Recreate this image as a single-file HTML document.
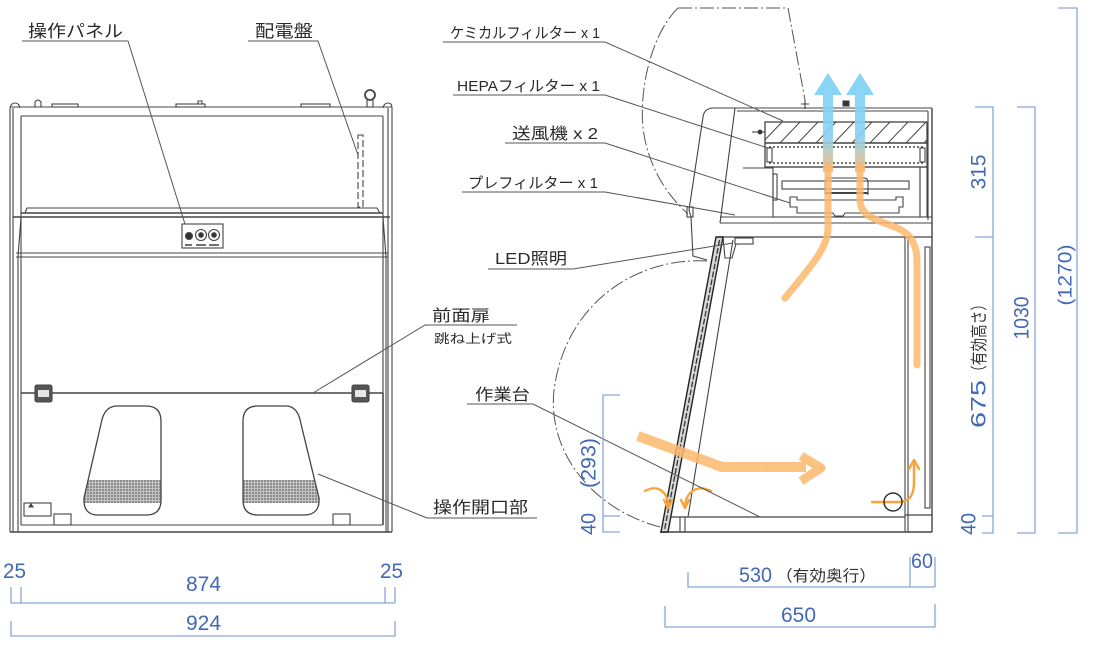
<!DOCTYPE html>
<html><head><meta charset="utf-8">
<style>
html,body{margin:0;padding:0;background:#fff;}
svg{display:block;}
text{font-family:"Liberation Sans","Noto Sans CJK JP",sans-serif;}
</style></head><body>
<svg width="1093" height="650" viewBox="0 0 1093 650" xmlns="http://www.w3.org/2000/svg">
<defs>
  <linearGradient id="ba" x1="0" y1="72" x2="0" y2="172" gradientUnits="userSpaceOnUse">
    <stop offset="0" stop-color="#79d0f6"/>
    <stop offset="0.65" stop-color="#86d2f3"/>
    <stop offset="1" stop-color="#fbb86c"/>
  </linearGradient>
  <pattern id="mesh" width="3" height="3" patternUnits="userSpaceOnUse">
    <rect width="3" height="3" fill="#c4c4c4"/>
    <rect width="2" height="2" fill="#8a8a8a"/>
  </pattern>
  <clipPath id="op1"><path d="M117 406 L146 406 Q161 406 161 421 L161 500 Q161 515 146 515 L98 515 Q83 515 84 498 L101 424 Q104 406 117 406 Z"/></clipPath>
  <clipPath id="op2"><path d="M258 406 L286 406 Q298 406 301 424 L319 498 Q320 515 304 515 L258 515 Q243 515 243 500 L243 421 Q243 406 258 406 Z"/></clipPath>
  <clipPath id="chem"><rect x="765" y="122" width="162" height="21"/></clipPath>
</defs>

<!-- ================= FRONT VIEW ================= -->
<g stroke="#444" fill="none" stroke-width="1.1">
  <path d="M10 108 V532 M13 108 V532 M18 257 V532 M21 116 V525"/>
  <path d="M10 108 Q11 103 15 103 Q19 103 20 108"/>
  <path d="M392 108 V532 M388 108 V532 M386 257 V532 M383 116 V525"/>
  <path d="M383 108 Q384 103 388 103 Q392 103 392 108"/>
  <path d="M10 107 H392 M21 116 H383"/>
  <path d="M25 213 L27 208 H377 L380 213"/>
  <path d="M21 213 H383" stroke-width="1.6"/>
  <path d="M13 217 H390" stroke-width="1.4"/>
  <path d="M21 217 L18 257 M383 217 L386 257"/>
  <path d="M16 253 H388 M16 257 H388"/>
  <path d="M21 393 H383 M383 393 V525" stroke-width="1.5"/>
  <path d="M21 525 H383"/>
  <path d="M10 532 H392" stroke-width="1.5"/>
  <path d="M35 107 V102 Q38 98 41 102 V107"/>
  <rect x="52" y="104" width="26" height="3"/>
  <rect x="176" y="104" width="29" height="3"/>
  <path d="M198 104 V101 H202 V104"/>
  <rect x="301" y="104" width="29" height="3"/>
  <circle cx="370" cy="95" r="5" stroke-width="1.8"/>
  <rect x="367" y="100" width="6" height="7"/>
  <rect x="358" y="135" width="5" height="72" stroke-dasharray="7 3"/>
  <rect x="182" y="224" width="41" height="24"/>
  <circle cx="189" cy="236" r="3.5" fill="#333"/>
  <circle cx="201" cy="235" r="5.5"/>
  <circle cx="201" cy="235" r="2.3" fill="#333"/>
  <circle cx="214" cy="235" r="5.5"/>
  <circle cx="214" cy="235" r="2.3" fill="#333"/>
  <path d="M185 245 H192 M196 245 H206 M209 245 H219" stroke-width="1.6"/>
  <rect x="35" y="385" width="17" height="17" rx="2" fill="#555"/>
  <rect x="38" y="390" width="11" height="7" fill="#e6e6e6" stroke="none"/>
  <rect x="352" y="385" width="17" height="17" rx="2" fill="#555"/>
  <rect x="355" y="390" width="11" height="7" fill="#e6e6e6" stroke="none"/>
  <rect x="80" y="480" width="85" height="23" fill="url(#mesh)" stroke="none" clip-path="url(#op1)"/>
  <rect x="240" y="480" width="85" height="23" fill="url(#mesh)" stroke="none" clip-path="url(#op2)"/>
  <path d="M117 406 L146 406 Q161 406 161 421 L161 500 Q161 515 146 515 L98 515 Q83 515 84 498 L101 424 Q104 406 117 406 Z" stroke-width="1.3"/>
  <path d="M258 406 L286 406 Q298 406 301 424 L319 498 Q320 515 304 515 L258 515 Q243 515 243 500 L243 421 Q243 406 258 406 Z" stroke-width="1.3"/>
  <rect x="24" y="503" width="27" height="13"/>
  <path d="M29 507 L31 504 L33 507 Z" fill="#444"/>
  <rect x="54" y="514" width="17" height="11"/>
  <rect x="333" y="514" width="17" height="11"/>
</g>

<!-- ================= SIDE VIEW ================= -->
<g stroke="#555" fill="none" stroke-width="1" stroke-dasharray="14 3 2 3">
  <path d="M678 8 H788 L805 100"/>
  <path d="M678 8 C652 33 639 88 643 128 C648 168 668 196 688 214"/>
  <path d="M707 261 C640 257 566 300 554 390 C547 455 596 512 664 528"/>
</g>

<g stroke="#444" fill="none" stroke-width="1.1">
  <path d="M735 108 H712 Q704 109 703 117 L689 210 L691 217 L693 256 L707 260"/>
  <path d="M735 108 L720 223"/>
  <rect x="687" y="207" width="6" height="10"/>
  <path d="M735 108 H932 M737 111 H928"/>
  <path d="M932 108 V532" stroke-width="1.4"/>
  <path d="M928 111 V220"/>
  <rect x="765" y="122" width="162" height="21" stroke-width="1.3"/>
  <g clip-path="url(#chem)" stroke-width="1">
    <path d="M762 143 L782 122 M780 143 L800 122 M798 143 L818 122 M816 143 L836 122 M834 143 L854 122 M852 143 L872 122 M870 143 L890 122 M888 143 L908 122 M906 143 L926 122 M924 143 L944 122"/>
  </g>
  <rect x="765" y="143" width="162" height="24" stroke-width="1.3"/>
  <path d="M769 147 H923 M769 163 H923" stroke-dasharray="2 2" stroke-width="1.6"/>
  <rect x="767" y="148" width="5" height="14"/>
  <rect x="920" y="148" width="5" height="14"/>
  <rect x="773" y="167" width="147" height="50"/>
  <rect x="920" y="167" width="7" height="50"/>
  <rect x="773" y="174" width="4" height="26"/>
  <path d="M743 168 H773"/>
  <rect x="782" y="181" width="127" height="8"/>
  <path d="M825 195 V182 Q825 178 829 178 H864 Q868 178 868 182 V195"/>
  <path d="M825 193 H868" stroke-width="2"/>
  <path d="M790 197 H797 V200 H896 V197 H903 V207 H899 V213 H845 L843 216 H835 L833 213 H797 V207 H790 Z"/>
  <path d="M805 100 V109 M801 104 H809"/>
  <rect x="843" y="101" width="6" height="5" fill="#333"/>
  <path d="M752 132 H765"/>
  <circle cx="760" cy="132" r="2" fill="#333"/>
  <path d="M720 217 H932 M720 223 H932"/>
  <path d="M718 237 H932" stroke-width="1.3"/>
  <rect x="735" y="238" width="18" height="6"/>
  <path d="M723 237 L725 258 L732 258 L736 244"/>
  <path d="M905 237 V532 M908 237 V532"/>
  <rect x="925" y="247" width="5" height="261"/>
  <path d="M668 517 H905 M905 515 H932" stroke-width="1.3"/>
  <path d="M660 532 H932" stroke-width="1.5"/>
  <path d="M680 517 V532 M685 517 V532"/>
  <polygon points="716,237 723,237 668,532 661,532" fill="#d8d8d8" stroke="#222" stroke-width="1.4"/>
  <path d="M719.5 240 L664.5 530" stroke="#333" stroke-width="1.3" stroke-dasharray="6 2"/>
  <path d="M733 240 L688 517"/>
</g>

<g>
  <path d="M823 172 V95 H814 L828 73 L842 95 H833 V172 Z" fill="url(#ba)" opacity="0.9"/>
  <path d="M855 172 V95 H846 L860 73 L874 95 H865 V172 Z" fill="url(#ba)" opacity="0.9"/>
  <g fill="none" stroke="#fbb86c" stroke-linecap="round" stroke-linejoin="round" opacity="0.85">
    <path d="M828 168 V228 C828 246 815 262 785 298" stroke-width="7"/>
    <path d="M860 168 V200 C860 225 900 220 912 240 C917 250 917 255 917 265 V365" stroke-width="7"/>
    <path d="M638 436 L722 467 H806" stroke-width="10" stroke-linecap="butt"/>
    <path d="M801 456 L821 468 L801 481" stroke-width="9" stroke-linecap="butt"/>
  </g>
  <g fill="none" stroke="#f8a43c" stroke-width="2.4" stroke-linecap="round" stroke-linejoin="round">
    <path d="M645 491 C658 484 668 492 668 506"/>
    <path d="M664 500 L668 508 L672 500"/>
    <path d="M711 491 C697 484 686 492 685 506"/>
    <path d="M681 500 L685 508 L689 500"/>
    <path d="M872 502 H898 C910 502 914 495 914 482 V462"/>
    <path d="M909 469 L914 460 L919 469"/>
  </g>
  <circle cx="893" cy="502" r="9" fill="none" stroke="#333" stroke-width="1.5"/>
</g>

<!-- ================= LEADERS ================= -->
<g stroke="#555" fill="none" stroke-width="1">
  <path d="M22 41 H128 L185 224"/>
  <path d="M248 41 H318 L358 155"/>
  <path d="M443 42 H605 L783 121"/>
  <path d="M453 95 H605 L768 148"/>
  <path d="M505 143 H605 L790 203"/>
  <path d="M462 192 H605 L735 215"/>
  <path d="M488 269 H573 L733 243"/>
  <path d="M517 325 H425 L313 393"/>
  <path d="M467 404 H533 L760 517"/>
  <path d="M537 518 H427 L318 474"/>
</g>

<!-- ================= LABELS ================= -->
<g fill="#2a2a2a" font-family="'Liberation Sans','Noto Sans CJK JP',sans-serif">
  <text x="28" y="37" font-size="17" textLength="95" lengthAdjust="spacingAndGlyphs">操作パネル</text>
  <text x="255" y="37" font-size="17" textLength="58" lengthAdjust="spacingAndGlyphs">配電盤</text>
  <text x="450" y="38" font-size="15" textLength="150" lengthAdjust="spacingAndGlyphs">ケミカルフィルター x 1</text>
  <text x="457" y="91" font-size="15" textLength="143" lengthAdjust="spacingAndGlyphs">HEPAフィルター x 1</text>
  <text x="512" y="139" font-size="16" textLength="86" lengthAdjust="spacingAndGlyphs">送風機 x 2</text>
  <text x="468" y="188" font-size="15" textLength="130" lengthAdjust="spacingAndGlyphs">プレフィルター x 1</text>
  <text x="495" y="264" font-size="16" textLength="72" lengthAdjust="spacingAndGlyphs">LED照明</text>
  <text x="432" y="321" font-size="16" textLength="58" lengthAdjust="spacingAndGlyphs">前面扉</text>
  <text x="434" y="343" font-size="12.5" textLength="78" lengthAdjust="spacingAndGlyphs">跳ね上げ式</text>
  <text x="475" y="400" font-size="16" textLength="55" lengthAdjust="spacingAndGlyphs">作業台</text>
  <text x="433" y="513" font-size="16.5" textLength="95" lengthAdjust="spacingAndGlyphs">操作開口部</text>
</g>

<!-- ================= DIMENSIONS ================= -->
<g stroke="#8aa6d6" fill="none" stroke-width="1.3">
  <path d="M11 587 V603 M21 587 V603 M385 587 V603 M395 587 V603 M11 603 H395"/>
  <path d="M11 621 V636 H395 V621"/>
  <path d="M688 572 V587 H935 M910 557 V587 M935 557 V587"/>
  <path d="M665 606 V627 H935 V604"/>
  <path d="M620 395 H603 V532 H620 M603 516 H620"/>
  <path d="M975 107 H993 V533 H982 M975 237 H993 M982 516 H993"/>
  <path d="M1017 107 H1035 V533 H1017"/>
  <path d="M1058 8 H1077 V533 H1058"/>
</g>

<g fill="#4169b5" font-size="21" font-family="'Liberation Sans','Noto Sans CJK JP',sans-serif">
  <text x="3" y="578" textLength="23" lengthAdjust="spacingAndGlyphs">25</text>
  <text x="186" y="591" textLength="35" lengthAdjust="spacingAndGlyphs">874</text>
  <text x="380" y="578" textLength="23" lengthAdjust="spacingAndGlyphs">25</text>
  <text x="186" y="630" textLength="35" lengthAdjust="spacingAndGlyphs">924</text>
  <text x="739" y="582" textLength="33" lengthAdjust="spacingAndGlyphs">530</text>
  <text x="776" y="581" font-size="15.5" fill="#333" textLength="100" lengthAdjust="spacingAndGlyphs">（有効奥行）</text>
  <text x="911" y="568" textLength="22" lengthAdjust="spacingAndGlyphs">60</text>
  <text x="781" y="622" textLength="35" lengthAdjust="spacingAndGlyphs">650</text>

  <text transform="translate(588 463) rotate(-90)" x="0" y="7.5" text-anchor="middle" textLength="50" lengthAdjust="spacingAndGlyphs">(293)</text>
  <text transform="translate(588 524) rotate(-90)" x="0" y="7.5" text-anchor="middle" textLength="22" lengthAdjust="spacingAndGlyphs">40</text>
  <text transform="translate(978 172) rotate(-90)" x="0" y="7.5" text-anchor="middle" textLength="35" lengthAdjust="spacingAndGlyphs">315</text>
  <text transform="translate(978 404) rotate(-90)" x="0" y="7.5" text-anchor="middle" textLength="48" lengthAdjust="spacingAndGlyphs">675</text>
  <text transform="translate(978 338) rotate(-90)" x="0" y="7" text-anchor="middle" font-size="17" fill="#333" textLength="82" lengthAdjust="spacingAndGlyphs">（有効高さ）</text>
  <text transform="translate(968 524) rotate(-90)" x="0" y="7.5" text-anchor="middle" textLength="22" lengthAdjust="spacingAndGlyphs">40</text>
  <text transform="translate(1021 318) rotate(-90)" x="0" y="7.5" text-anchor="middle" textLength="43" lengthAdjust="spacingAndGlyphs">1030</text>
  <text transform="translate(1065 275) rotate(-90)" x="0" y="6.5" text-anchor="middle" font-size="19" textLength="61" lengthAdjust="spacingAndGlyphs">(1270)</text>
</g>
</svg>
</body></html>
